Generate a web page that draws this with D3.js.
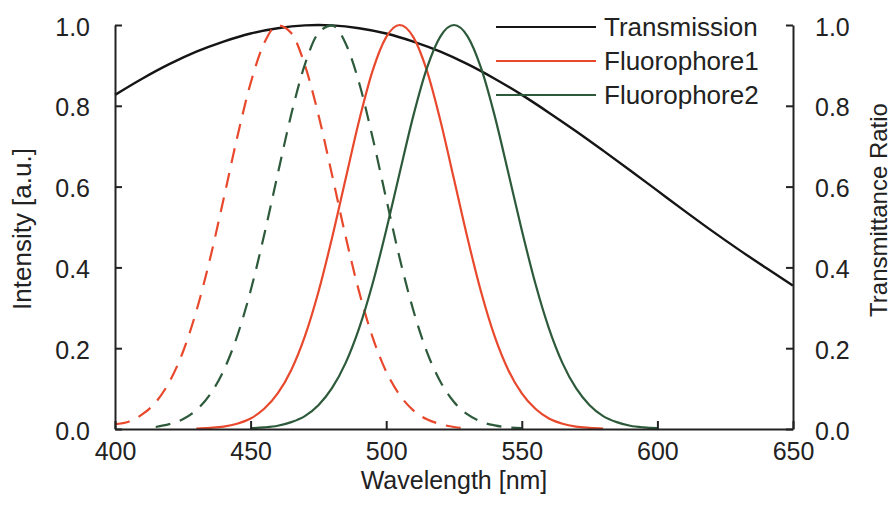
<!DOCTYPE html>
<html>
<head>
<meta charset="utf-8">
<script src="https://cdn.jsdelivr.net/npm/d3@7"></script>
<style>
    body { margin: 0; background: #fff; }
    svg { display: block; font-family: 'Liberation Sans', Arial, Helvetica, sans-serif; }
</style>
</head>
<body>
<div id="chart-container"></div>
<script>
// Wavelengths in nm, intensities (normalised to 1)
const transWl = [400, 410, 420, 430, 440, 450, 460, 470, 475, 480, 490, 500, 510, 520,
    530, 540, 550, 560, 570, 580, 590, 600, 610, 620, 630, 640, 650];
const transmission = [0.827, 0.867, 0.903, 0.934, 0.959, 0.979, 0.992, 0.999, 1.0, 0.999,
    0.992, 0.979, 0.959, 0.934, 0.903, 0.867, 0.827, 0.783, 0.737, 0.689, 0.640, 0.590,
    0.540, 0.491, 0.444, 0.399, 0.355];

// Fluorophore1 excitation (dashed)
const f1ExWl = [400, 405, 410, 415, 420, 425, 430, 435, 440, 445, 450, 455, 460, 465,
    470, 475, 480, 485, 490, 495, 500, 505, 510, 515, 520, 525, 530];
const f1Ex = [0.012, 0.018, 0.036, 0.066, 0.116, 0.190, 0.292, 0.420, 0.568, 0.720,
    0.856, 0.955, 0.999, 0.980, 0.901, 0.778, 0.630, 0.478, 0.340, 0.227, 0.142, 0.084,
    0.046, 0.024, 0.012, 0.005, 0.002];

// Fluorophore1 emission (solid)
const f1EmWl = [430, 435, 440, 445, 450, 455, 460, 465, 470, 475, 480, 485, 490, 495,
    500, 505, 510, 515, 520, 525, 530, 535, 540, 545, 550, 555, 560, 565, 570, 575, 580];
const f1Em = [0.001, 0.003, 0.006, 0.013, 0.026, 0.050, 0.088, 0.146, 0.229, 0.339,
    0.472, 0.618, 0.763, 0.887, 0.970, 1.0, 0.970, 0.887, 0.763, 0.618, 0.472, 0.339,
    0.229, 0.146, 0.088, 0.050, 0.026, 0.013, 0.006, 0.003, 0.001];

// Fluorophore2 excitation (dashed)
const f2ExWl = [415, 420, 425, 430, 435, 440, 445, 450, 455, 460, 465, 470, 475, 480,
    485, 490, 495, 500, 505, 510, 515, 520, 525, 530, 535, 540, 545, 550];
const f2Ex = [0.005, 0.012, 0.024, 0.047, 0.085, 0.144, 0.229, 0.342, 0.480, 0.631,
    0.779, 0.902, 0.980, 0.999, 0.955, 0.857, 0.721, 0.570, 0.422, 0.294, 0.191, 0.117,
    0.067, 0.036, 0.018, 0.009, 0.004, 0.002];

// Fluorophore2 emission (solid)
const f2EmWl = [450, 455, 460, 465, 470, 475, 480, 485, 490, 495, 500, 505, 510, 515,
    520, 525, 530, 535, 540, 545, 550, 555, 560, 565, 570, 575, 580, 585, 590, 595, 600];
const f2Em = [0.002, 0.004, 0.008, 0.017, 0.032, 0.059, 0.101, 0.163, 0.249, 0.360,
    0.492, 0.635, 0.775, 0.893, 0.972, 1.0, 0.972, 0.893, 0.775, 0.635, 0.492, 0.360,
    0.249, 0.163, 0.101, 0.059, 0.032, 0.017, 0.008, 0.004, 0.002];

const xTicks = [400, 450, 500, 550, 600, 650];
const yTicks = [0, 0.2, 0.4, 0.6, 0.8, 1.0];
const legendLabels = ['Transmission', 'Fluorophore1', 'Fluorophore2'];

const RED = '#e8482c';
const GREEN = '#2d5a3a';
const BLACK = '#151515';
const INK = '#222';
const FONT_SIZE = 25;
const TITLE_SIZE = 26;

const width = 894, height = 506;
const margin = { top: 25, right: 101, bottom: 77, left: 115 };

const svg = d3.select('#chart-container').append('svg')
    .attr('width', width)
    .attr('height', height);

const xScale = d3.scaleLinear()
    .domain([400, 650])
    .range([margin.left, width - margin.right]);
const yScale = d3.scaleLinear()
    .domain([0, 1])
    .range([height - margin.bottom, margin.top]);

// Curves
const series = [
    { wl: transWl, v: transmission, color: BLACK, dash: null, w: 2.4 },
    { wl: f1ExWl, v: f1Ex, color: RED, dash: '15,10', w: 2.2 },
    { wl: f2ExWl, v: f2Ex, color: GREEN, dash: '15,10', w: 2.2 },
    { wl: f1EmWl, v: f1Em, color: RED, dash: null, w: 2.2 },
    { wl: f2EmWl, v: f2Em, color: GREEN, dash: null, w: 2.2 }
];

const line = d3.line()
    .x(d => xScale(d[0]))
    .y(d => yScale(d[1]))
    .curve(d3.curveMonotoneX);

svg.append('g')
    .selectAll('path')
    .data(series)
    .enter()
    .append('path')
        .attr('fill', 'none')
        .attr('stroke', d => d.color)
        .attr('stroke-width', d => d.w)
        .attr('stroke-dasharray', d => d.dash)
        .attr('d', d => line(d.wl.map((x, i) => [x, d.v[i]])));

// Axes, ticks point inwards
function styleAxis(g, dy) {
    g.selectAll('.domain').attr('stroke', INK).attr('stroke-width', 2);
    g.selectAll('.tick line').attr('stroke', INK).attr('stroke-width', 2);
    g.selectAll('.tick text')
        .attr('fill', INK)
        .attr('font-size', FONT_SIZE)
        .attr('font-family', null)
        .attr('dy', dy);
}

svg.append('g')
    .attr('transform', `translate(0, ${yScale(0)})`)
    .call(d3.axisBottom(xScale)
        .tickValues(xTicks)
        .tickSizeInner(-8)
        .tickSizeOuter(0)
        .tickPadding(13))
    .call(styleAxis, '0.71em');

svg.append('g')
    .attr('transform', `translate(${xScale(400)}, 0)`)
    .call(d3.axisLeft(yScale)
        .tickValues(yTicks)
        .tickFormat(d3.format('.1f'))
        .tickSizeInner(-7)
        .tickSizeOuter(0)
        .tickPadding(25))
    .call(styleAxis, '0.4em');

svg.append('g')
    .attr('transform', `translate(${xScale(650)}, 0)`)
    .call(d3.axisRight(yScale)
        .tickValues(yTicks)
        .tickFormat(d3.format('.1f'))
        .tickSizeInner(-7)
        .tickSizeOuter(0)
        .tickPadding(22))
    .call(styleAxis, '0.4em');

// Axis titles
svg.append('text')
    .attr('x', (xScale(400) + xScale(650)) / 2)
    .attr('y', 489)
    .attr('fill', INK)
    .attr('font-size', FONT_SIZE)
    .style('text-anchor', 'middle')
    .text('Wavelength [nm]');

svg.append('text')
    .attr('transform', `translate(31, ${(yScale(0) + yScale(1)) / 2 + 2}) rotate(-90)`)
    .attr('fill', INK)
    .attr('font-size', TITLE_SIZE)
    .style('text-anchor', 'middle')
    .text('Intensity [a.u.]');

svg.append('text')
    .attr('transform', `translate(887, 210) rotate(-90)`)
    .attr('fill', INK)
    .attr('font-size', 24)
    .style('text-anchor', 'middle')
    .text('Transmittance Ratio');

// Legend
const legendColors = [BLACK, RED, GREEN];
const rows = svg.append('g')
    .selectAll('g')
    .data(legendLabels)
    .enter()
    .append('g')
        .attr('transform', (d, i) => `translate(0, ${27 + i * 34})`);
rows.append('line')
    .attr('x1', 496)
    .attr('x2', 596)
    .attr('stroke', (d, i) => legendColors[i])
    .attr('stroke-width', 2.2);
rows.append('text')
    .attr('x', 604)
    .attr('dy', '0.36em')
    .attr('fill', INK)
    .attr('font-size', TITLE_SIZE)
    .text(d => d);
</script>
</body>
</html>
